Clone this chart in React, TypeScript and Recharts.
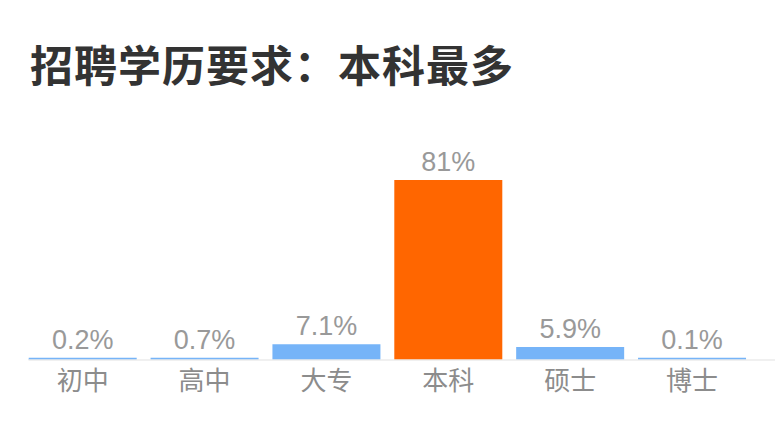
import { BarChart, Bar, XAxis, YAxis, Cell, LabelList } from "recharts";

const levels = ["初中", "高中", "大专", "本科", "硕士", "博士"];
const shares = [0.2, 0.7, 7.1, 81, 5.9, 0.1];
const highlight = "本科";

const data = levels.map((level, i) => ({ level, share: shares[i] }));

const FONT = "'Liberation Sans', 'Noto Sans CJK SC', sans-serif";

export default function App() {
  return (
    <div style={{ position: "absolute", left: 0, top: 0, width: 775, height: 426, background: "#fff", fontFamily: FONT }}>
      <div
        style={{
          position: "absolute",
          left: 30,
          top: 42,
          fontSize: 43,
          lineHeight: 1,
          fontWeight: 700,
          letterSpacing: 1,
          color: "#333",
          fontFamily: "'Noto Sans CJK SC', sans-serif",
          whiteSpace: "nowrap",
        }}
      >
        招聘学历要求：本科最多
      </div>
      <BarChart
        width={775}
        height={426}
        data={data}
        margin={{ top: 180, right: 0, bottom: 0, left: 28.5 }}
        barCategoryGap={6.9}
        style={{ position: "absolute", left: 0, top: 0 }}
      >
        <XAxis
          dataKey="level"
          height={66}
          padding={{ left: -6.7, right: 22 }}
          axisLine={{ stroke: "#ebebeb", strokeWidth: 1.5 }}
          tickLine={false}
          tickSize={0}
          tickMargin={12}
          tick={{ fill: "#8c8c8c", fontSize: 26, fontFamily: FONT }}
          interval={0}
        />
        <YAxis hide domain={[0, "dataMax"]} />
        <Bar dataKey="share" minPointSize={2.2} isAnimationActive={false}>
          {data.map((d) => (
            <Cell key={d.level} fill={d.level === highlight ? "#ff6600" : "#76b4f8"} />
          ))}
          <LabelList
            dataKey="share"
            position="top"
            offset={9}
            formatter={(v: number) => `${v}%`}
            style={{ fill: "#999", fontSize: 27, fontFamily: FONT }}
          />
        </Bar>
      </BarChart>
    </div>
  );
}
